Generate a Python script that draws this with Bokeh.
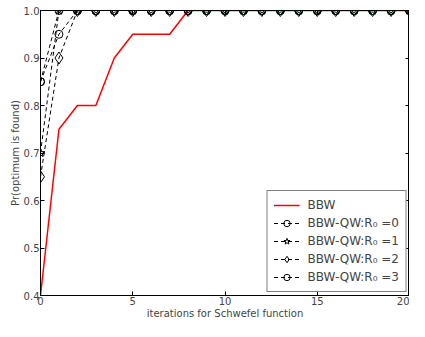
from bokeh.plotting import figure
from bokeh.models import Range1d, LinearAxis, FixedTicker, Legend, LegendItem
from bokeh.embed import file_html
from bokeh.resources import INLINE

iters = list(range(0, 21))
bbw = [0.40, 0.75, 0.80, 0.80, 0.90, 0.95, 0.95, 0.95] + [1.0] * 13
qw_r0 = [0.85, 0.95] + [1.0] * 19
qw_r1 = [0.70, 1.0] + [1.0] * 19
qw_r2 = [0.65, 0.90] + [1.0] * 19
qw_r3 = [0.85, 1.0] + [1.0] * 19
x_ticks = [0, 5, 10, 15, 20]
y_ticks = [0.4, 0.5, 0.6, 0.7, 0.8, 0.9, 1.0]

FONT = "DejaVu Sans"

p = figure(width=409, height=321, output_backend="svg", toolbar_location=None,
           x_range=Range1d(0, 20), y_range=Range1d(0.4, 1.0),
           min_border_left=40, min_border_right=0, min_border_top=10, min_border_bottom=0)
p.background_fill_color = "white"
p.border_fill_color = "white"
p.outline_line_color = "black"
p.outline_line_width = 1
p.grid.visible = False

for ax in [p.xaxis[0], p.yaxis[0]]:
    ax.major_tick_in = 4
    ax.major_tick_out = 0
    ax.minor_tick_line_color = None
    ax.axis_line_color = "black"
    ax.major_label_text_font = FONT
    ax.major_label_text_font_size = "10px"
    ax.axis_label_text_font = FONT
    ax.axis_label_text_font_size = "10px"
    ax.axis_label_text_font_style = "normal"
    ax.major_label_standoff = 1
    ax.axis_label_standoff = 0

p.xaxis[0].ticker = FixedTicker(ticks=x_ticks)
p.yaxis[0].ticker = FixedTicker(ticks=y_ticks)
p.xaxis[0].axis_label = "iterations for Schwefel function"
p.yaxis[0].axis_label = "Pr(optimum is found)"
p.yaxis[0].major_label_overrides = {v: f"{v:.1f}" for v in y_ticks}

right = LinearAxis(ticker=FixedTicker(ticks=y_ticks),
                   major_label_overrides={v: "" for v in y_ticks},
                   major_tick_in=4, major_tick_out=0, minor_tick_line_color=None,
                   major_label_standoff=0)
top = LinearAxis(ticker=FixedTicker(ticks=x_ticks),
                 major_label_overrides={v: "" for v in x_ticks},
                 major_tick_in=4, major_tick_out=0, minor_tick_line_color=None,
                 major_label_standoff=0)
p.add_layout(right, "right")
p.add_layout(top, "above")

r_bbw = p.line(iters, bbw, line_color="red", line_width=1.5)

items = [LegendItem(label="BBW", renderers=[r_bbw])]
series = [(qw_r0, "circle", 8, "0"), (qw_r1, "star", 9, "1"),
          (qw_r2, "diamond", 12, "2"), (qw_r3, "circle", 8, "3")]
for ys, mk, sz, lab in series:
    rl = p.line(iters, ys, line_color="black", line_dash="4 3", line_width=1)
    rs = p.scatter(iters, ys, marker=mk, size=sz, line_color="black",
                   fill_color=None, line_width=1)
    items.append(LegendItem(label="BBW-QW:R\u2080 =" + lab, renderers=[rl, rs]))

legend = Legend(items=items, location="bottom_right")
legend.label_text_font = FONT
legend.label_text_font_size = "12px"
legend.border_line_color = "black"
legend.border_line_width = 1
legend.background_fill_alpha = 1
legend.glyph_width = 26
legend.glyph_height = 16
legend.label_height = 16
legend.label_standoff = 8
legend.spacing = 2
legend.padding = 6
legend.margin = 3
p.add_layout(legend)

open("out.html", "w").write(file_html(p, INLINE))
